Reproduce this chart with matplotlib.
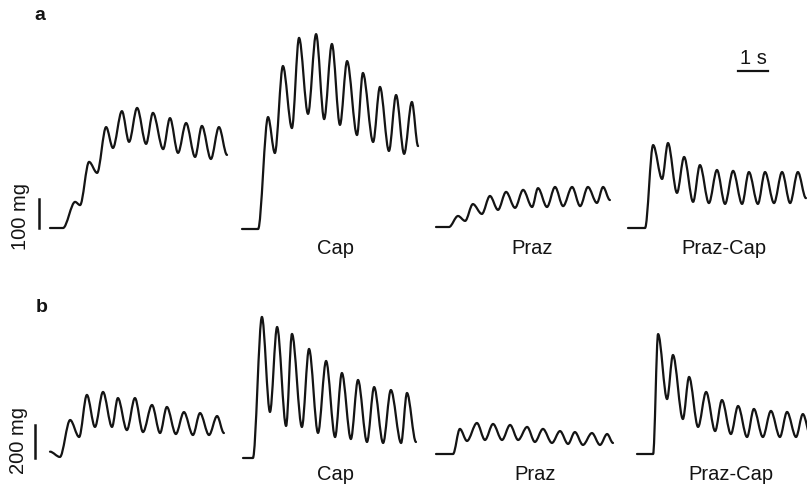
import matplotlib
matplotlib.use("Agg")
import matplotlib.pyplot as plt
from matplotlib.path import Path
from matplotlib.patches import PathPatch

# ---- data (time in s from trace start, tension in mg above baseline) ----
# row a
a_control_t = [0.00, 0.42, 0.81, 0.97, 1.26, 1.52, 1.81, 2.03, 2.32, 2.55, 2.81, 3.10,
               3.32, 3.65, 3.87, 4.13, 4.39, 4.68, 4.90, 5.19, 5.45, 5.71]
a_control_mg = [0, 0, 90, 79, 228, 190, 348, 276, 403, 297, 414, 290,
                397, 272, 379, 259, 362, 245, 352, 238, 348, 252]

a_cap_t = [0.00, 0.52, 0.84, 1.06, 1.32, 1.61, 1.84, 2.13, 2.39, 2.65, 2.90, 3.16,
           3.39, 3.71, 3.90, 4.23, 4.45, 4.74, 4.97, 5.23, 5.48, 5.68]
a_cap_mg = [0, 0, 386, 262, 562, 348, 659, 397, 672, 379, 638, 359,
            579, 324, 538, 300, 490, 269, 462, 259, 438, 286]

a_praz_t = [0.00, 0.42, 0.71, 0.94, 1.19, 1.48, 1.74, 2.00, 2.26, 2.55, 2.81, 3.10,
            3.29, 3.58, 3.84, 4.10, 4.39, 4.65, 4.90, 5.19, 5.39, 5.61]
a_praz_mg = [0, 0, 38, 21, 79, 45, 107, 59, 121, 66, 128, 69,
             134, 69, 138, 72, 138, 72, 138, 83, 138, 93]

a_prazcap_t = [0.00, 0.55, 0.81, 1.10, 1.29, 1.58, 1.81, 2.10, 2.32, 2.61, 2.87, 3.13,
               3.39, 3.68, 3.90, 4.19, 4.42, 4.71, 4.97, 5.23, 5.48, 5.74]
a_prazcap_mg = [0, 0, 286, 169, 293, 121, 245, 90, 217, 86, 200, 83,
                197, 83, 193, 83, 193, 86, 193, 86, 193, 103]

# row b
b_control_t = [0.00, 0.32, 0.65, 0.94, 1.19, 1.45, 1.71, 2.00, 2.19, 2.48, 2.74, 3.00,
               3.29, 3.55, 3.77, 4.06, 4.32, 4.61, 4.84, 5.13, 5.39, 5.61]
b_control_mg = [8, -24, 200, 97, 352, 158, 370, 158, 333, 139, 333, 127,
                291, 121, 279, 115, 248, 109, 242, 109, 224, 121]

b_cap_t = [0.00, 0.32, 0.61, 0.87, 1.10, 1.39, 1.58, 1.90, 2.13, 2.42, 2.68, 2.97,
           3.19, 3.48, 3.71, 4.00, 4.23, 4.52, 4.77, 5.10, 5.29, 5.58]
b_cap_mg = [0, 0, 855, 279, 794, 194, 752, 188, 661, 152, 588, 127,
            515, 115, 473, 97, 430, 91, 412, 91, 394, 97]

b_praz_t = [0.00, 0.55, 0.77, 1.00, 1.32, 1.58, 1.84, 2.13, 2.39, 2.65, 2.94, 3.19,
            3.45, 3.74, 4.00, 4.26, 4.48, 4.74, 5.03, 5.29, 5.52, 5.71]
b_praz_mg = [0, 0, 152, 79, 188, 85, 182, 85, 176, 85, 164, 73,
             152, 67, 139, 61, 133, 55, 127, 55, 121, 67]

b_prazcap_t = [0.00, 0.52, 0.68, 0.97, 1.16, 1.48, 1.68, 1.97, 2.23, 2.52, 2.74, 3.03,
               3.26, 3.55, 3.77, 4.06, 4.32, 4.61, 4.84, 5.13, 5.35, 5.61]
b_prazcap_mg = [0, 0, 727, 333, 600, 212, 467, 164, 376, 139, 327, 121,
                291, 103, 273, 103, 261, 103, 255, 103, 242, 103]

trace_labels = ["", "Cap", "Praz", "Praz-Cap"]

# ---- layout (pixels of the 807x484 figure) ----
W, H = 807, 484
PX_PER_S = 31.0
PX_PER_MG = {"a": 29 / 100.0, "b": 33 / 200.0}
ROW_X0 = {"a": [50, 242, 436, 628], "b": [50, 243, 436, 637]}
ROW_BASE = {"a": [228, 229, 227, 228], "b": [453, 458, 454, 454]}
LABEL_X = {"a": [None, 336, 532, 724], "b": [None, 336, 535, 731]}
LABEL_Y = {"a": 249, "b": 474}

rows = {
    "a": [(a_control_t, a_control_mg), (a_cap_t, a_cap_mg),
          (a_praz_t, a_praz_mg), (a_prazcap_t, a_prazcap_mg)],
    "b": [(b_control_t, b_control_mg), (b_cap_t, b_cap_mg),
          (b_praz_t, b_praz_mg), (b_prazcap_t, b_prazcap_mg)],
}

plt.rcParams['font.family'] = ['Liberation Sans', 'DejaVu Sans']
INK = '#141414'


def smooth_path(t, y):
    # cubic segments with flat tangents at every read point (peaks / troughs)
    verts = [(t[0], y[0])]
    codes = [Path.MOVETO]
    for i in range(1, len(t)):
        dt = t[i] - t[i - 1]
        verts += [(t[i - 1] + dt / 3, y[i - 1]), (t[i] - dt / 3, y[i]), (t[i], y[i])]
        codes += [Path.CURVE4] * 3
    return Path(verts, codes)


def trace_axes(fig, x0, base, px_per_mg):
    width = 190
    ax = fig.add_axes([x0 / W, 0, width / W, 1])
    ax.set_xlim(0, width / PX_PER_S)
    ax.set_ylim(-(H - base) / px_per_mg, base / px_per_mg)
    ax.axis('off')
    return ax


fig = plt.figure(figsize=(W / 100, H / 100), dpi=100)

axes = {}
for row, traces in rows.items():
    axes[row] = []
    for i, (t, mg) in enumerate(traces):
        ax = trace_axes(fig, ROW_X0[row][i], ROW_BASE[row][i], PX_PER_MG[row])
        ax.add_patch(PathPatch(smooth_path(t, mg), fill=False, edgecolor=INK,
                               lw=1.6, capstyle='round', joinstyle='round', clip_on=False))
        axes[row].append(ax)
        if trace_labels[i]:
            fig.text(LABEL_X[row][i] / W, 1 - LABEL_Y[row] / H, trace_labels[i],
                     ha='center', va='center', fontsize=14.5, color=INK)

# calibration bars
ax = axes["a"][0]
ax.plot([-0.35, -0.35], [0, 100], color=INK, lw=1.8, clip_on=False)
fig.text(20 / W, 1 - 217 / H, "100 mg", rotation=90, ha='center', va='center',
         fontsize=14.5, color=INK)

ax = axes["b"][0]
ax.plot([-0.48, -0.48], [-30, 170], color=INK, lw=1.8, clip_on=False)
fig.text(19 / W, 1 - 440 / H, "200 mg", rotation=90, ha='center', va='center',
         fontsize=14.5, color=INK)

ax = axes["a"][3]
ax.plot([3.55, 4.52], [541, 541], color=INK, lw=1.6, clip_on=False)
fig.text(753 / W, 1 - 58 / H, "1 s", ha='center', va='center', fontsize=14.5, color=INK)

# panel letters
fig.text(40 / W, 1 - 16 / H, "a", ha='center', va='center', fontsize=14,
         fontweight='bold', color=INK)
fig.text(42 / W, 1 - 307 / H, "b", ha='center', va='center', fontsize=14,
         fontweight='bold', color=INK)

fig.savefig("out.png", dpi=100, facecolor='white')
